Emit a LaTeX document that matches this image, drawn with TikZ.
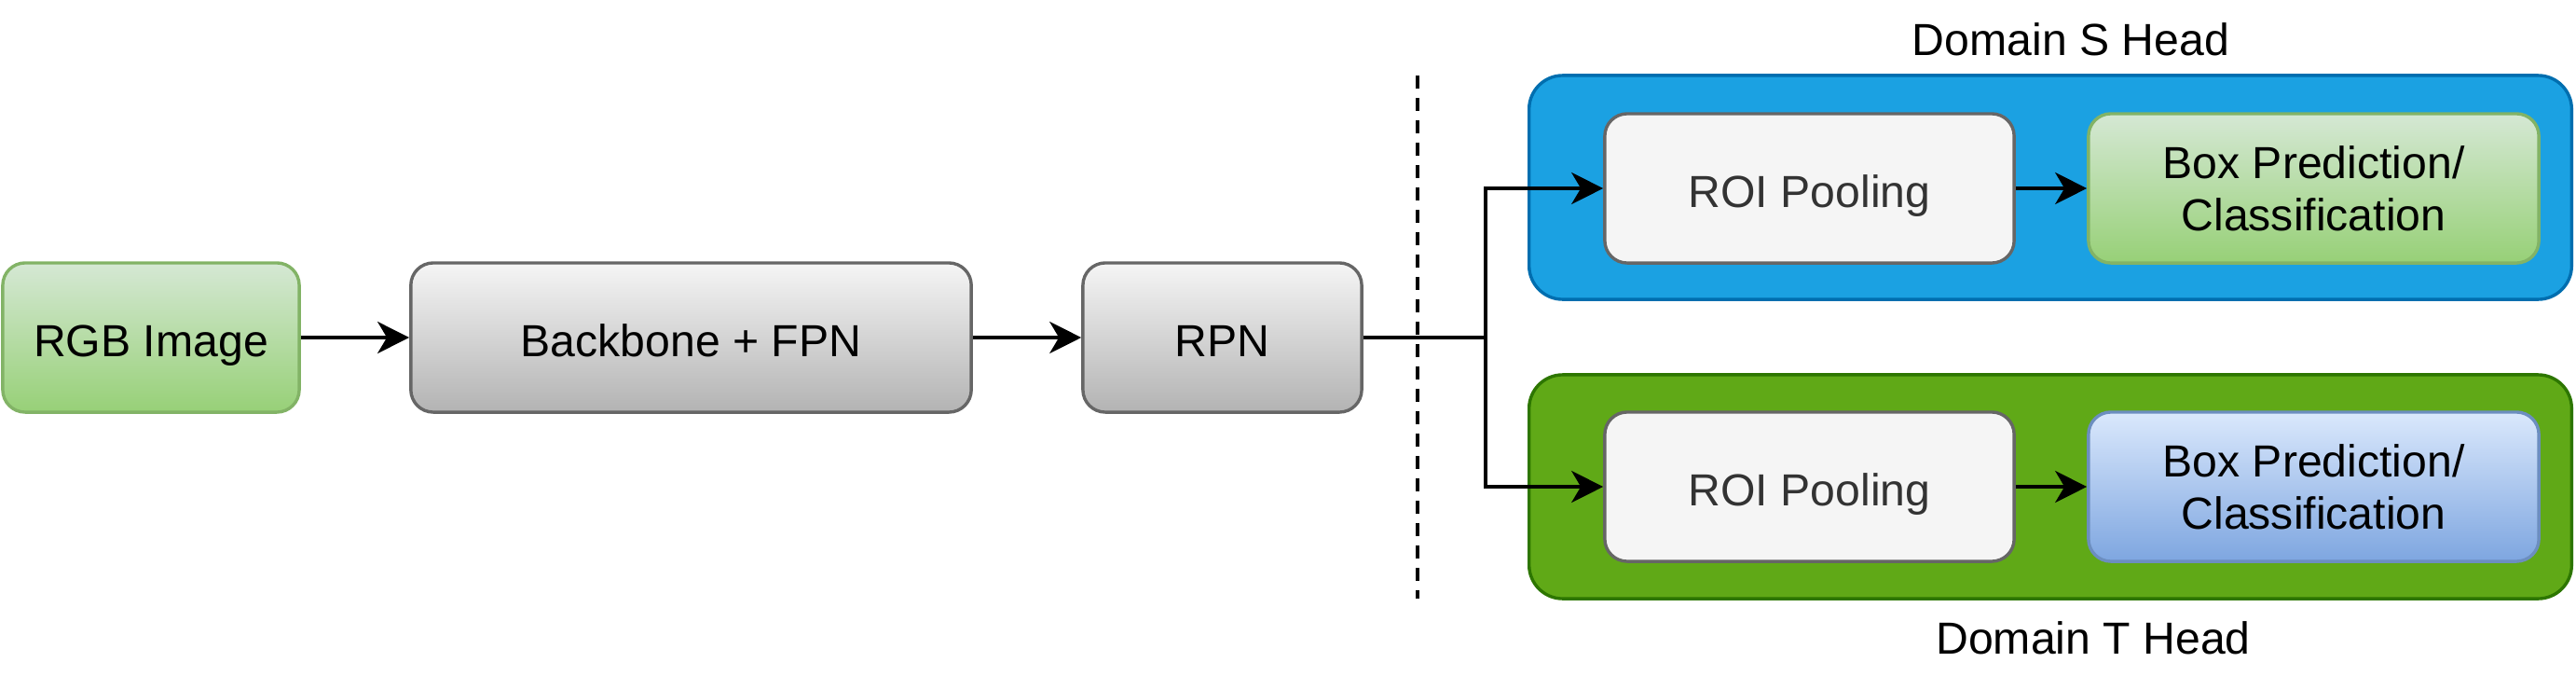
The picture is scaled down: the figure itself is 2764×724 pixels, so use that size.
\documentclass[tikz,border=0pt]{standalone}
\usepackage{fontspec}
\setmainfont{Liberation Sans}
\usetikzlibrary{arrows.meta}
\definecolor{grnTop}{HTML}{D5E8D4}
\definecolor{grnBot}{HTML}{97D077}
\definecolor{grnLine}{HTML}{82B366}
\definecolor{gryTop}{HTML}{F5F5F5}
\definecolor{gryBot}{HTML}{B3B3B3}
\definecolor{gryLine}{HTML}{666666}
\definecolor{bluTop}{HTML}{DAE8FC}
\definecolor{bluBot}{HTML}{7EA6E0}
\definecolor{bluLine}{HTML}{6C8EBF}
\definecolor{contBlue}{HTML}{1BA1E2}
\definecolor{contBlueLine}{HTML}{006EAF}
\definecolor{contGreen}{HTML}{60A917}
\definecolor{contGreenLine}{HTML}{2D7600}
\definecolor{roiFill}{HTML}{F5F5F5}
\definecolor{roiText}{HTML}{333333}
\tikzset{
  basebox/.style={rectangle, rounded corners=0.24cm, line width=0.034cm, inner sep=0pt,
    minimum height=1.6cm, align=center, font=\fontsize{13.7pt}{16pt}\selectfont},
  oneline/.style={text height=0.5cm, text depth=0.09cm},
  greenbox/.style={basebox, draw=grnLine, top color=grnTop, bottom color=grnBot},
  graybox/.style={basebox, draw=gryLine, top color=gryTop, bottom color=gryBot},
  bluebox/.style={basebox, draw=bluLine, top color=bluTop, bottom color=bluBot},
  roibox/.style={basebox, oneline, draw=gryLine, fill=roiFill, text=roiText},
  container/.style={rectangle, rounded corners=0.36cm, line width=0.034cm, inner sep=0pt,
    minimum height=2.4cm, minimum width=11.18cm},
  headlabel/.style={font=\fontsize{13.7pt}{16pt}\selectfont, inner sep=0pt},
  conn/.style={line width=0.034cm, -{Stealth[length=0.34cm,width=0.34cm,inset=0.1cm]}},
  plainconn/.style={line width=0.034cm},
  sepline/.style={line width=0.034cm, dash pattern=on 0.14cm off 0.1cm}
}
\begin{document}
\begin{tikzpicture}[x=0.01cm,y=-0.01cm]
\useasboundingbox (0,0) rectangle (2764,724);
% containers
\node[container, fill=contBlue, draw=contBlueLine] (contS) at (2200,201) {};
\node[container, fill=contGreen, draw=contGreenLine] (contT) at (2200,522) {};
\node[headlabel] (labS) at (2222,42) {Domain S Head};
\node[headlabel] (labT) at (2246,684) {Domain T Head};
% main row
\node[greenbox, oneline, minimum width=3.18cm] (rgb) at (162,362) {RGB Image};
\node[graybox, oneline, minimum width=6.01cm] (bb) at (741.5,362) {Backbone + FPN};
\node[graybox, oneline, minimum width=2.99cm] (rpn) at (1311.5,362) {RPN};
% heads
\node[roibox, minimum width=4.39cm] (roiS) at (1941.5,202) {ROI Pooling};
\node[roibox, minimum width=4.39cm] (roiT) at (1941.5,522) {ROI Pooling};
\node[greenbox, minimum width=4.83cm] (boxS) at (2482.5,202) {Box Prediction/\\Classification};
\node[bluebox, minimum width=4.83cm] (boxT) at (2482.5,522) {Box Prediction/\\Classification};
% separator
\coordinate (dtop) at (1521,81);
\coordinate (dbot) at (1521,642);
\draw[sepline] (dtop) -- (dbot);
% connectors
\coordinate (branch) at (1594,362);
\draw[conn] (rgb) -- (bb);
\draw[conn] (bb) -- (rpn);
\draw[plainconn] (rpn.east) -- (branch);
\draw[conn] (branch) |- (roiS.west);
\draw[conn] (branch) |- (roiT.west);
\draw[conn] (roiS) -- (boxS);
\draw[conn] (roiT) -- (boxT);
\end{tikzpicture}
\end{document}
